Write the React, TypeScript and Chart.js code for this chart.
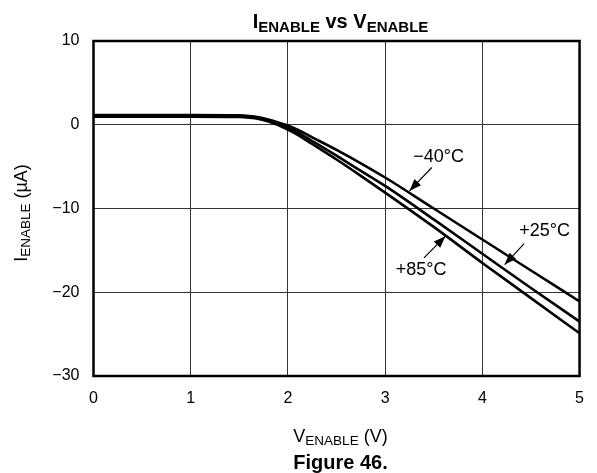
import React, { useEffect, useRef } from "react";
import { Chart, registerables } from "chart.js";

Chart.register(...registerables);

const voltages = [0, 0.5, 1.0, 1.5, 1.6, 1.7, 1.8, 1.9, 2.0, 2.1, 2.25, 2.5, 2.75, 3.0, 3.5, 4.0, 4.5, 5.0];
const iMinus40 = [1.15, 1.15, 1.15, 1.12, 1.05, 0.9, 0.62, 0.28, -0.1, -0.6, -1.5, -3.0, -4.6, -6.3, -10.0, -13.7, -17.4, -21.1];
const iPlus25 = [1.05, 1.05, 1.05, 1.02, 0.95, 0.8, 0.5, 0.1, -0.35, -0.9, -1.95, -3.7, -5.5, -7.3, -11.3, -15.4, -19.5, -23.5];
const iPlus85 = [0.95, 0.95, 0.95, 0.92, 0.85, 0.7, 0.38, -0.05, -0.6, -1.2, -2.3, -4.15, -6.1, -8.1, -12.2, -16.5, -20.7, -24.9];

const seriesNames = ["−40°C", "+25°C", "+85°C"];
const xTicks = [0, 1, 2, 3, 4, 5];
const yTicks = [-30, -20, -10, 0, 10];

const annotations = [
  { label: "−40°C", lx: 3.55, ly: -3.8, from: [3.48, -5.1], to: [3.25, -7.9] },
  { label: "+25°C", lx: 4.64, ly: -12.7, from: [4.43, -14.2], to: [4.23, -16.7] },
  { label: "+85°C", lx: 3.37, ly: -17.3, from: [3.4, -15.9], to: [3.62, -13.3] },
];

const FONT = "'Liberation Sans', Arial, Helvetica, sans-serif";

const frameAndNotes = {
  id: "frameAndNotes",
  afterDraw(chart: any) {
    const { ctx, chartArea, scales } = chart;
    const xs = scales.x;
    const ys = scales.y;
    ctx.save();
    ctx.strokeStyle = "#000";
    ctx.lineWidth = 2.5;
    ctx.strokeRect(chartArea.left, chartArea.top, chartArea.right - chartArea.left, chartArea.bottom - chartArea.top);

    ctx.font = `18px ${FONT}`;
    ctx.fillStyle = "#000";
    ctx.textAlign = "center";
    ctx.textBaseline = "middle";
    for (const a of annotations) {
      const lx = xs.getPixelForValue(a.lx);
      const ly = ys.getPixelForValue(a.ly);
      ctx.fillText(a.label, lx, ly);
      const x0 = xs.getPixelForValue(a.from[0]);
      const y0 = ys.getPixelForValue(a.from[1]);
      const x1 = xs.getPixelForValue(a.to[0]);
      const y1 = ys.getPixelForValue(a.to[1]);
      ctx.lineWidth = 1.2;
      ctx.beginPath();
      ctx.moveTo(x0, y0);
      ctx.lineTo(x1, y1);
      ctx.stroke();
      const ang = Math.atan2(y1 - y0, x1 - x0);
      const len = 12;
      const hw = 4.5;
      const bx = x1 - len * Math.cos(ang);
      const by = y1 - len * Math.sin(ang);
      ctx.beginPath();
      ctx.moveTo(x1, y1);
      ctx.lineTo(bx + hw * Math.sin(ang), by - hw * Math.cos(ang));
      ctx.lineTo(bx - hw * Math.sin(ang), by + hw * Math.cos(ang));
      ctx.closePath();
      ctx.fill();
    }
    ctx.restore();
  },
};

const subStyle: React.CSSProperties = { fontSize: "0.75em", position: "relative", top: "0.25em" };

export default function App() {
  const ref = useRef<HTMLCanvasElement | null>(null);

  useEffect(() => {
    if (!ref.current) return;
    const mk = (data: number[], i: number) => ({
      label: seriesNames[i],
      data: voltages.map((v, k) => ({ x: v, y: data[k] })),
      borderColor: "#000",
      backgroundColor: "#000",
      borderWidth: 2.6,
      pointRadius: 0,
      cubicInterpolationMode: "monotone" as const,
      fill: false,
    });
    const chart = new Chart(ref.current, {
      type: "line",
      data: {
        datasets: [mk(iMinus40, 0), mk(iPlus25, 1), mk(iPlus85, 2)],
      },
      options: {
        animation: false,
        responsive: false,
        devicePixelRatio: 1,
        layout: { padding: { left: 0, top: 41, right: 9, bottom: 0 } },
        plugins: { legend: { display: false }, tooltip: { enabled: false }, title: { display: false } },
        scales: {
          x: {
            type: "linear",
            min: 0,
            max: 5,
            afterBuildTicks: (s: any) => {
              s.ticks = xTicks.map((v) => ({ value: v }));
            },
            afterFit: (s: any) => {
              s.height = 97;
            },
            grid: { color: "#333", lineWidth: 1, drawTicks: false },
            border: { display: false },
            ticks: {
              color: "#000",
              padding: 13,
              font: { family: FONT, size: 16 },
              maxRotation: 0,
              callback: (v: any) => String(v),
            },
          },
          y: {
            type: "linear",
            min: -30,
            max: 10,
            afterBuildTicks: (s: any) => {
              s.ticks = yTicks.map((v) => ({ value: v }));
            },
            afterFit: (s: any) => {
              s.width = 93.5;
            },
            grid: { color: "#333", lineWidth: 1, drawTicks: false },
            border: { display: false },
            ticks: {
              color: "#000",
              padding: 14,
              font: { family: FONT, size: 16 },
              callback: (v: any) => String(v).replace("-", "−"),
            },
          },
        },
      },
      plugins: [frameAndNotes],
    });
    return () => chart.destroy();
  }, []);

  return (
    <div style={{ position: "fixed", left: 0, top: 0, width: 597, height: 473, background: "#fff", fontFamily: FONT, color: "#000" }}>
      <canvas ref={ref} width={597} height={473} style={{ position: "absolute", left: 0, top: 0, width: 597, height: 473 }} />
      <div style={{ position: "absolute", left: 93, width: 495, top: 10, textAlign: "center", fontWeight: "bold", fontSize: 20, lineHeight: "22px" }}>
        I<span style={subStyle}>ENABLE</span> vs V<span style={subStyle}>ENABLE</span>
      </div>
      <div style={{ position: "absolute", left: 93, width: 495, top: 425, textAlign: "center", fontSize: 18, lineHeight: "22px" }}>
        V<span style={subStyle}>ENABLE</span> (V)
      </div>
      <div style={{ position: "absolute", left: 93, width: 495, top: 451, textAlign: "center", fontSize: 20, fontWeight: "bold", lineHeight: "22px" }}>
        Figure 46.
      </div>
      <div style={{ position: "absolute", left: 22, top: 212, width: 0, height: 0 }}>
        <div style={{ position: "absolute", left: -110, top: -11, width: 220, textAlign: "center", fontSize: 18, lineHeight: "22px", transform: "rotate(-90deg)", whiteSpace: "nowrap" }}>
          I<span style={subStyle}>ENABLE</span> (µA)
        </div>
      </div>
    </div>
  );
}
